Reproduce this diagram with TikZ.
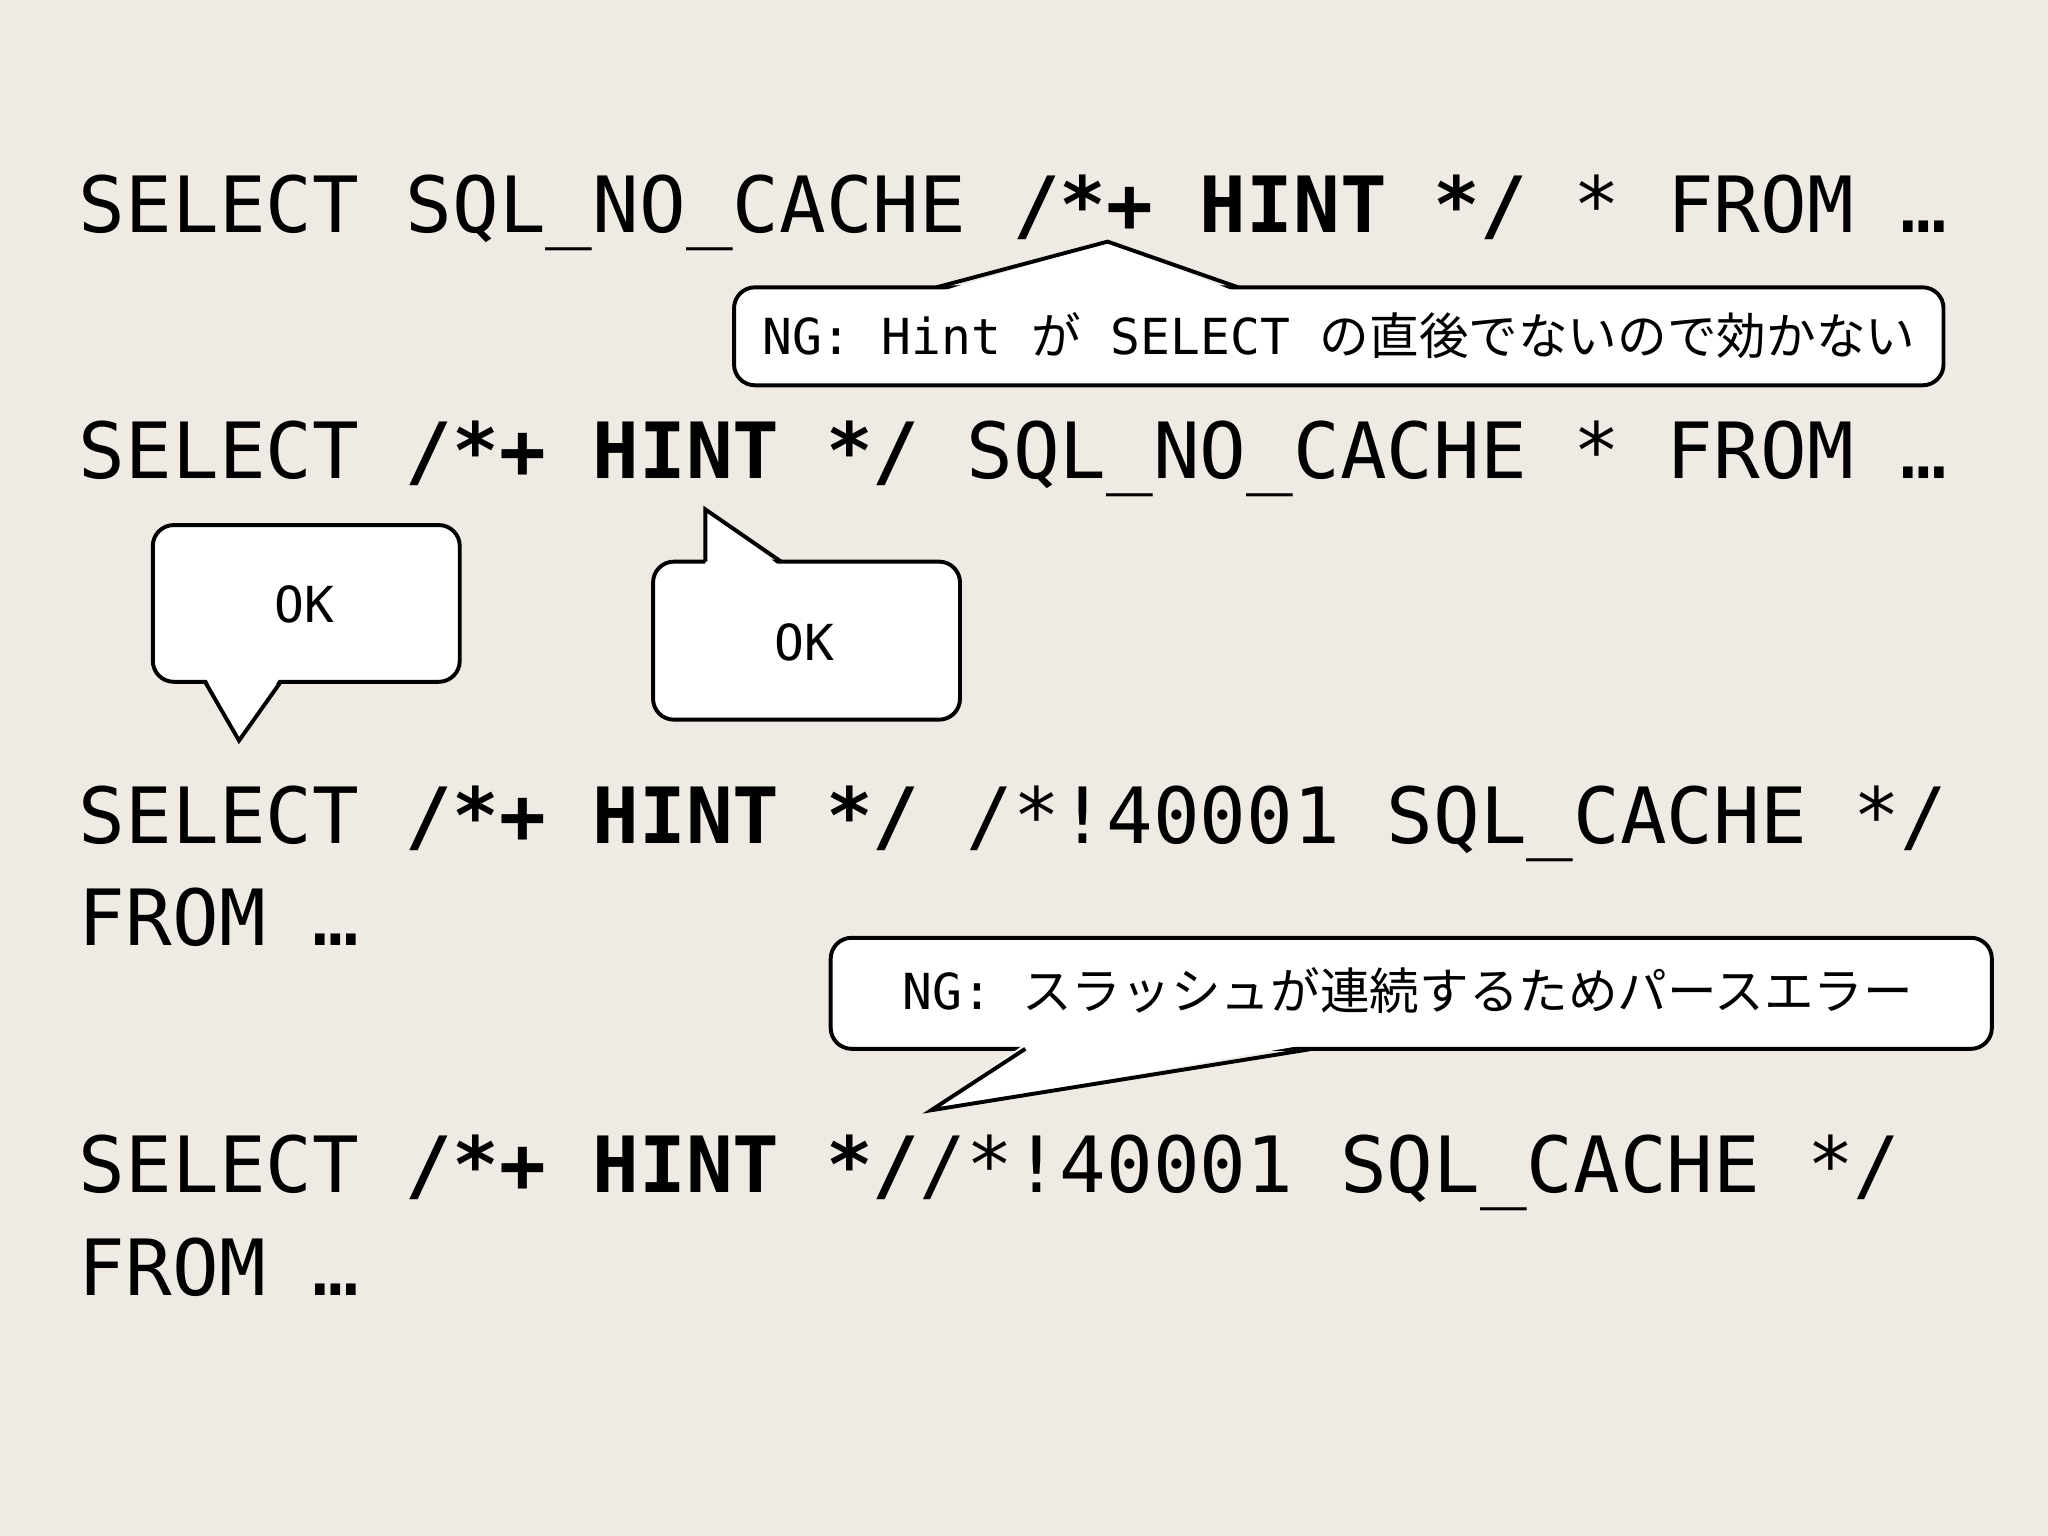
\documentclass[tikz,border=0pt]{standalone}
\usepackage{fontspec}
\setmonofont{DejaVu Sans Mono}
\newfontfamily\jp{Noto Sans CJK JP}
\definecolor{bg}{HTML}{EFEBE4}
\begin{document}
\begin{tikzpicture}[x=0.5pt,y=-0.5pt,
  code/.style={anchor=base west,inner sep=0pt,font=\ttfamily\fontsize{29.7}{36}\selectfont},
  bub/.style={draw=black,line width=1.5pt,fill=white,rounded corners=8pt},
  ptr/.style={draw=black,line width=1.5pt,line join=miter},
  small/.style={inner sep=0pt,font=\ttfamily\fontsize{19}{22}\selectfont}]
\fill[bg] (0,0) rectangle (1568,1176);
\useasboundingbox (0,0) rectangle (1568,1176);
\node[code] (l1) at (60,178) {SELECT SQL\_NO\_CACHE \textbf{/*+ HINT */} * FROM …};
\node[code] (l2) at (60,366) {SELECT \textbf{/*+ HINT */} SQL\_NO\_CACHE * FROM …};
\node[code] (l3) at (60,646) {SELECT \textbf{/*+ HINT */} /*!40001 SQL\_CACHE */};
\node[code] (l4) at (60,724) {FROM …};
\node[code] (l5) at (60,913) {SELECT \textbf{/*+ HINT */}/*!40001 SQL\_CACHE */};
\node[code] (l6) at (60,992) {FROM …};
% callout 1
\draw[bub] (562,220) rectangle (1488,295);
\fill[white] (717,224) -- (848,185) -- (948,224) -- cycle;
\draw[ptr] (717,220) -- (848,185) -- (948,220);
\node[small] (t1) at (1025,257) {NG: Hint {\jp が} SELECT {\jp の直後でないので効かない}};
% callout 2
\draw[bub] (117,402) rectangle (352,522);
\fill[white] (157,518) -- (183,567) -- (215,518) -- cycle;
\draw[ptr] (157,522) -- (183,567) -- (215,522);
\node[small] (t2) at (233,463) {OK};
% callout 3
\draw[bub] (500,430) rectangle (735,551);
\fill[white] (540,434) -- (540,390) -- (598,434) -- cycle;
\draw[ptr] (540,430) -- (540,390) -- (598,430);
\node[small] (t3) at (616,492) {OK};
% callout 4
\draw[bub] (636,718) rectangle (1525,803);
\fill[white] (785,799) -- (713,850) -- (1005,799) -- cycle;
\draw[ptr] (785,803) -- (713,850) -- (1005,803);
\node[small] (t4) at (1078,758) {NG: {\jp スラッシュが連続するためパースエラー}};
\end{tikzpicture}
\end{document}
